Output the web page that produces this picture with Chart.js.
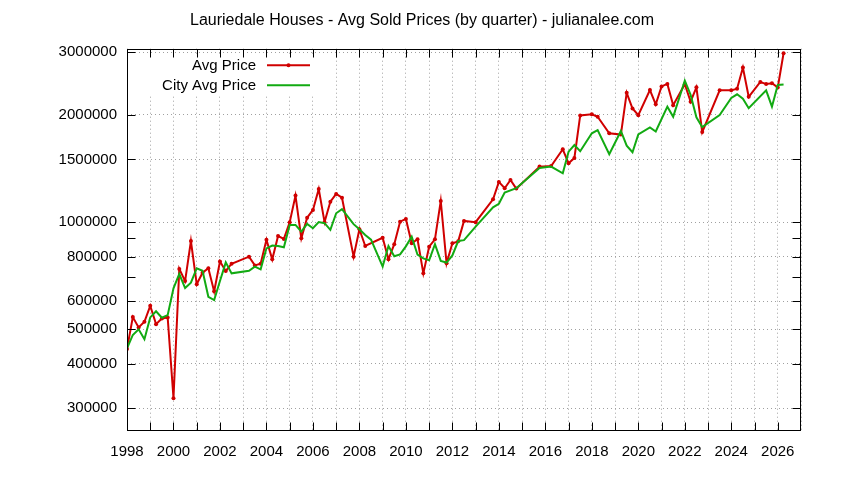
<!DOCTYPE html>
<html>
<head>
<meta charset="utf-8">
<title>Lauriedale Houses - Avg Sold Prices</title>
<script src="https://cdn.jsdelivr.net/npm/chart.js@4.4.1/dist/chart.umd.min.js"></script>
<style>
  html, body { margin: 0; padding: 0; background: #fff; }
  #wrap { width: 844px; height: 480px; }
</style>
</head>
<body>
<div id="wrap"><canvas id="price-chart" width="844" height="480"></canvas></div>
<script>
const TITLE = 'Lauriedale Houses - Avg Sold Prices (by quarter) - julianalee.com';
const FONT = '"Liberation Sans", Arial, sans-serif';

const RED   = '#d00000';
const GREEN = '#12aa12';

// Quarters as decimal years. Some quarters have no sales, so each series has its own list.
const avgQuarters = [
    1998.00, 1998.25, 1998.50, 1998.75, 1999.00, 1999.25, 1999.50, 1999.75,
    2000.00, 2000.25, 2000.50, 2000.75, 2001.00, 2001.25, 2001.50, 2001.75,
    2002.00, 2002.25, 2002.50, 2003.25, 2003.50, 2003.75,
    2004.00, 2004.25, 2004.50, 2004.75, 2005.00, 2005.25, 2005.50, 2005.75,
    2006.00, 2006.25, 2006.50, 2006.75, 2007.00, 2007.25, 2007.75,
    2008.00, 2008.25, 2009.00, 2009.25, 2009.50, 2009.75,
    2010.00, 2010.25, 2010.50, 2010.75, 2011.00, 2011.25, 2011.50, 2011.75,
    2012.00, 2012.25, 2012.50, 2013.00, 2013.75,
    2014.00, 2014.25, 2014.50, 2014.75, 2015.75, 2016.25, 2016.75,
    2017.00, 2017.25, 2017.50, 2018.00, 2018.25, 2018.75,
    2019.25, 2019.50, 2019.75, 2020.00, 2020.50, 2020.75,
    2021.00, 2021.25, 2021.50, 2022.00, 2022.25, 2022.50, 2022.75,
    2023.50, 2024.00, 2024.25, 2024.50, 2024.75,
    2025.25, 2025.50, 2025.75, 2026.00, 2026.25,
];
const avgPrices = [
    440000, 541000, 506000, 525000, 582000, 517000, 536000, 540000,
    320000, 739000, 683000, 885000, 669000, 721000, 742000, 639000,
    775000, 729000, 764000, 800000, 756000, 764000,
    892000, 786000, 914000, 897000, 999000, 1187000, 901000, 1029000,
    1082000, 1239000, 1000000, 1141000, 1200000, 1171000, 800000,
    955000, 857000, 904000, 786000, 867000, 1003000,
    1021000, 872000, 895000, 718000, 853000, 895000, 1147000, 766000,
    872000, 883000, 1008000, 1000000, 1159000,
    1297000, 1245000, 1313000, 1242000, 1432000, 1437000, 1602000,
    1463000, 1514000, 1994000, 2009000, 1977000, 1776000,
    1762000, 2308000, 2085000, 1996000, 2350000, 2143000,
    2405000, 2445000, 2130000, 2440000, 2180000, 2392000, 1790000,
    2345000, 2345000, 2370000, 2718000, 2249000,
    2476000, 2442000, 2455000, 2390000, 2981000,
];

const cityQuarters = [
    1998.00, 1998.25, 1998.50, 1998.75, 1999.00, 1999.25, 1999.50, 1999.75,
    2000.00, 2000.25, 2000.50, 2000.75, 2001.00, 2001.25, 2001.50, 2001.75,
    2002.00, 2002.25, 2002.50, 2003.25, 2003.50, 2003.75,
    2004.00, 2004.25, 2004.50, 2004.75, 2005.00, 2005.25, 2005.50, 2005.75,
    2006.00, 2006.25, 2006.50, 2006.75, 2007.00, 2007.25, 2007.75,
    2008.00, 2008.25, 2008.50, 2009.00, 2009.25, 2009.50, 2009.75,
    2010.00, 2010.25, 2010.50, 2010.75, 2011.00, 2011.25, 2011.50, 2011.75,
    2012.00, 2012.25, 2012.50, 2013.00, 2013.75,
    2014.00, 2014.25, 2014.75, 2015.75, 2016.25, 2016.75,
    2017.00, 2017.25, 2017.50, 2018.00, 2018.25, 2018.75,
    2019.25, 2019.50, 2019.75, 2020.00, 2020.50, 2020.75,
    2021.25, 2021.50, 2022.00, 2022.25, 2022.50, 2022.75,
    2023.50, 2024.00, 2024.25, 2024.50, 2024.75,
    2025.50, 2025.75, 2026.00, 2026.25,
];
const cityPrices = [
    442000, 482000, 500000, 469000, 540000, 562000, 539000, 548000,
    652000, 715000, 653000, 676000, 742000, 730000, 617000, 604000,
    683000, 771000, 718000, 730000, 750000, 737000,
    844000, 859000, 857000, 850000, 982000, 982000, 940000, 989000,
    961000, 1000000, 993000, 951000, 1059000, 1087000, 987000,
    955000, 920000, 893000, 750000, 857000, 802000, 812000,
    855000, 910000, 810000, 791000, 781000, 867000, 778000, 770000,
    806000, 885000, 890000, 971000, 1100000,
    1126000, 1210000, 1245000, 1420000, 1432000, 1371000,
    1577000, 1647000, 1582000, 1776000, 1814000, 1552000,
    1803000, 1640000, 1572000, 1764000, 1844000, 1797000,
    2110000, 1977000, 2498000, 2280000, 1970000, 1848000,
    2000000, 2232000, 2286000, 2223000, 2089000,
    2345000, 2110000, 2428000, 2434000,
];

// Labelled log ticks (with grid) and the unlabelled extra ticks
const yTicks = [300000, 400000, 500000, 600000, 800000, 1000000, 1500000, 2000000, 3000000];
const yExtraTicks = [700000, 900000];

const toPoints = (xs, ys) => xs.map((x, i) => ({ x, y: ys[i] }));

// gnuplot-like frame: border on all sides, inward tick marks, opaque key box and key
const gnuplotFrame = {
    id: 'gnuplotFrame',
    beforeDatasetsDraw(chart) {
        const { ctx, chartArea: a } = chart;
        ctx.save();
        ctx.fillStyle = '#fff';
        ctx.fillRect(a.left + 1, a.top + 6, 186, 40);
        ctx.restore();
    },
    afterDraw(chart) {
        const { ctx, chartArea: a, scales: { x, y } } = chart;
        const L = Math.round(a.left) + 0.5, R = Math.round(a.right) - 0.5;
        const T = Math.round(a.top) + 0.5, B = Math.round(a.bottom) - 0.5;
        ctx.save();
        ctx.strokeStyle = '#000';
        ctx.lineWidth = 1;
        ctx.beginPath();
        for (let yr = x.min + 1; yr < x.max; yr++) {
            const px = Math.round(x.getPixelForValue(yr)) + 0.5;
            ctx.moveTo(px, B); ctx.lineTo(px, B - 8);
            ctx.moveTo(px, T); ctx.lineTo(px, T + 8);
        }
        yTicks.concat(yExtraTicks).forEach(v => {
            const py = Math.round(y.getPixelForValue(v)) + 0.5;
            ctx.moveTo(L, py); ctx.lineTo(L + 8, py);
            ctx.moveTo(R, py); ctx.lineTo(R - 8, py);
        });
        ctx.stroke();
        ctx.strokeRect(L, T, R - L, B - T);

        // key
        ctx.font = '15px ' + FONT;
        ctx.textAlign = 'right';
        ctx.textBaseline = 'middle';
        chart.data.datasets.forEach((ds, i) => {
            const ky = a.top + 16.5 + i * 20;
            ctx.fillStyle = '#000';
            ctx.fillText(ds.label, a.left + 129, ky + 1);
            ctx.strokeStyle = ds.borderColor;
            ctx.lineWidth = 2;
            ctx.beginPath();
            ctx.moveTo(a.left + 140, ky);
            ctx.lineTo(a.left + 183, ky);
            ctx.stroke();
            if (ds.pointRadius > 0) {
                ctx.fillStyle = ds.borderColor;
                ctx.beginPath();
                ctx.arc(a.left + 161.5, ky, ds.pointRadius, 0, Math.PI * 2);
                ctx.fill();
            }
        });
        ctx.restore();
    },
};

new Chart(document.getElementById('price-chart'), {
    type: 'line',
    data: {
        datasets: [{
            label: 'Avg Price',
            data: toPoints(avgQuarters, avgPrices),
            borderColor: RED,
            backgroundColor: RED,
            borderWidth: 2,
            pointRadius: 2,
            pointBorderWidth: 0,
            pointBackgroundColor: RED,
            tension: 0,
            order: 1,
        }, {
            label: 'City Avg Price',
            data: toPoints(cityQuarters, cityPrices),
            borderColor: GREEN,
            backgroundColor: GREEN,
            borderWidth: 2,
            pointRadius: 0,
            tension: 0,
            order: 0,
        }],
    },
    options: {
        responsive: false,
        devicePixelRatio: 1,
        animation: false,
        events: [],
        layout: { padding: 0 },
        plugins: {
            legend: { display: false },
            tooltip: { enabled: false },
            title: {
                display: true,
                text: TITLE,
                color: '#000',
                font: { family: FONT, size: 16, weight: 'normal' },
                padding: { top: 10.5, bottom: 19 },
            },
        },
        scales: {
            x: {
                type: 'linear',
                min: 1998,
                max: 2027,
                afterBuildTicks: s => {
                    const t = [];
                    for (let yr = 1998; yr <= 2027; yr++) t.push({ value: yr });
                    s.ticks = t;
                },
                afterFit: s => { s.height = 49; },
                ticks: {
                    autoSkip: false,
                    maxRotation: 0,
                    padding: 12,
                    color: '#000',
                    font: { family: FONT, size: 15 },
                    callback: v => (v % 2 === 0 && v < 2027 ? String(v) : ''),
                },
                grid: { color: '#a0a0a0', lineWidth: 1, drawTicks: false },
                border: { display: false, dash: [1, 3] },
            },
            y: {
                type: 'logarithmic',
                position: 'left',
                min: 259000,
                max: 3070000,
                afterBuildTicks: s => { s.ticks = yTicks.map(v => ({ value: v })); },
                afterFit: s => { s.width = 127; },
                ticks: {
                    padding: 10,
                    color: '#000',
                    font: { family: FONT, size: 15 },
                    callback: v => String(v),
                },
                grid: { color: '#a0a0a0', lineWidth: 1, drawTicks: false },
                border: { display: false, dash: [1, 3] },
            },
            yMirror: {
                type: 'linear',
                position: 'right',
                afterFit: s => { s.width = 43; },
                ticks: { display: false },
                grid: { display: false, drawTicks: false },
                border: { display: false },
            },
        },
    },
    plugins: [gnuplotFrame],
});
</script>
</body>
</html>
